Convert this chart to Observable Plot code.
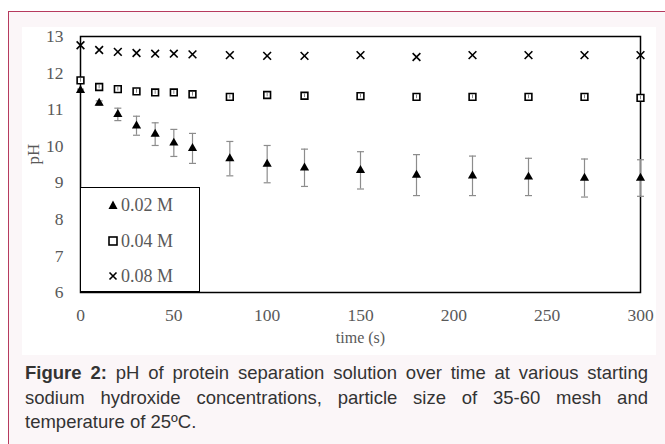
<!DOCTYPE html>
<html>
<head>
<meta charset="utf-8">
<script src="https://cdn.jsdelivr.net/npm/d3@7"></script>
<script src="https://cdn.jsdelivr.net/npm/@observablehq/plot@0.6"></script>
<style>
  html, body { margin: 0; padding: 0; background: #ffffff; }
  #page { position: relative; width: 665px; height: 444px; overflow: hidden; }
  #outer { position: absolute; left: 8px; top: 11px; width: 700px; height: 500px;
           border: 1.5px solid #b63a5e; background: #fbf6f8; box-sizing: border-box; }
  #panel { position: absolute; left: 22px; top: 27px; width: 634px; height: 328px; background: #ffffff; }
  #chart { position: absolute; left: 0; top: 0; }
  #legend { position: absolute; left: 80px; top: 187px; width: 120px; height: 105px;
            box-sizing: border-box; border: 1.5px solid #000; background: #fff;
            font-family: "Liberation Serif", serif; font-size: 18px; color: #595959; }
  .lg { position: absolute; left: 27px; height: 20px; display: flex; align-items: center; white-space: nowrap; }
  .lg svg { margin-right: 3px; }
  #caption { position: absolute; left: 25px; top: 361px; width: 623px;
             font-family: "Liberation Sans", Arial, sans-serif; font-size: 18.5px; line-height: 24.5px; color: #333; }
  #caption .j { text-align: justify; text-align-last: justify; }
</style>
</head>
<body>
<div id="page">
  <div id="outer"></div>
  <div id="panel"></div>
  <div id="chart"></div>
  <div id="legend"></div>
  <div id="caption">
    <div class="j"><b>Figure 2:</b> pH of protein separation solution over time at various starting</div>
    <div class="j">sodium hydroxide concentrations, particle size of 35-60 mesh and</div>
    <div>temperature of 25ºC.</div>
  </div>
</div>
<script>
// ---- data ----
const time  = [0, 10, 20, 30, 40, 50, 60, 80, 100, 120, 150, 180, 210, 240, 270, 300];
const ph002 = [11.53, 11.18, 10.87, 10.56, 10.33, 10.09, 9.94, 9.66, 9.51, 9.41, 9.34, 9.21, 9.19, 9.16, 9.13, 9.13];
const err002 = [0.03, 0.06, 0.17, 0.26, 0.31, 0.37, 0.41, 0.47, 0.51, 0.51, 0.51, 0.56, 0.54, 0.51, 0.52, 0.50];
const ph004 = [11.80, 11.62, 11.56, 11.50, 11.47, 11.47, 11.42, 11.35, 11.40, 11.38, 11.37, 11.35, 11.35, 11.35, 11.35, 11.32];
const err004 = [0.05, 0.05, 0.05, 0.05, 0.05, 0.05, 0.05, 0.05, 0.05, 0.05, 0.05, 0.05, 0.05, 0.05, 0.05, 0.05];
const ph008 = [12.76, 12.63, 12.58, 12.55, 12.53, 12.53, 12.51, 12.49, 12.47, 12.47, 12.49, 12.44, 12.49, 12.49, 12.49, 12.49];
const seriesNames = ["0.02 M", "0.04 M", "0.08 M"];
const xTicks = [0, 50, 100, 150, 200, 250, 300];
const yTicks = [6, 7, 8, 9, 10, 11, 12, 13];
const xLabel = "time (s)";
const yLabel = "pH";

// ---- tables built from the arrays ----
const d002 = time.map((t, i) => ({t, v: ph002[i], lo: ph002[i] - err002[i], hi: ph002[i] + err002[i]}));
const d004 = time.map((t, i) => ({t, v: ph004[i], lo: ph004[i] - err004[i], hi: ph004[i] + err004[i]}));
const d008 = time.map((t, i) => ({t, v: ph008[i]}));

const cap = { draw(ctx, size) { const r = Math.sqrt(size / Math.PI); ctx.moveTo(-r, 0); ctx.lineTo(r, 0); } };
const gray = "#595959";

const plot = Plot.plot({
  width: 665, height: 360,
  marginLeft: 80, marginRight: 25, marginTop: 36, marginBottom: 68,
  x: {domain: [0, 300]},
  y: {domain: [6, 13]},
  style: {background: "transparent", fontFamily: "Liberation Serif, serif", overflow: "visible"},
  marks: [
    Plot.axisY(yTicks, {tickSize: 0, tickPadding: 17, fontSize: 17.5, fill: gray, label: null}),
    Plot.axisX(xTicks, {tickSize: 0, tickPadding: 16, fontSize: 17.5, fill: gray, label: null}),
    Plot.frame({stroke: "black", strokeWidth: 1.5}),
    // 0.04 M tiny error bars
    Plot.dot(d004, {x: "t", y: "v", symbol: "square", r: 3.8, fill: "white", stroke: "black", strokeWidth: 1.6}),
    Plot.ruleX(d004, {x: "t", y1: "lo", y2: "hi", stroke: "#666", strokeWidth: 0.8}),
    // 0.02 M error bars + triangles
    Plot.ruleX(d002, {x: "t", y1: "lo", y2: "hi", stroke: "#8c8c8c", strokeWidth: 1.2}),
    Plot.dot(d002, {x: "t", y: "lo", symbol: cap, r: 3.5, stroke: "#8c8c8c", strokeWidth: 1.2, fill: "none"}),
    Plot.dot(d002, {x: "t", y: "hi", symbol: cap, r: 3.5, stroke: "#8c8c8c", strokeWidth: 1.2, fill: "none"}),
    Plot.dot(d002, {x: "t", y: "v", symbol: "triangle", r: 3.4, fill: "black", stroke: "none"}),
    // 0.08 M crosses
    Plot.dot(d008, {x: "t", y: "v", symbol: "times", r: 3.6, stroke: "black", strokeWidth: 1.6}),
    // axis titles
    Plot.text([yLabel], {frameAnchor: "left", dx: -47, rotate: -90, fontSize: 17, fill: gray, text: d => d}),
    Plot.text([xLabel], {frameAnchor: "bottom", dy: 50, fontSize: 16, fill: gray, text: d => d})
  ]
});
document.getElementById("chart").appendChild(plot);

// ---- legend ----
const legendSymbols = [
  '<svg width="10" height="10"><path d="M5,0.5 L9.5,9 L0.5,9 Z" fill="black"/></svg>',
  '<svg width="10" height="10"><rect x="1" y="1" width="8" height="8" fill="white" stroke="black" stroke-width="1.6"/></svg>',
  '<svg width="10" height="10"><path d="M1.5,1.5 L8.5,8.5 M8.5,1.5 L1.5,8.5" stroke="black" stroke-width="1.6"/></svg>'
];
const rowTops = [7, 43, 78];
const legend = document.getElementById("legend");
seriesNames.forEach((name, i) => {
  const row = document.createElement("div");
  row.className = "lg";
  row.style.top = rowTops[i] + "px";
  row.innerHTML = legendSymbols[i] + "<span>" + name + "</span>";
  legend.appendChild(row);
});
</script>
</body>
</html>
